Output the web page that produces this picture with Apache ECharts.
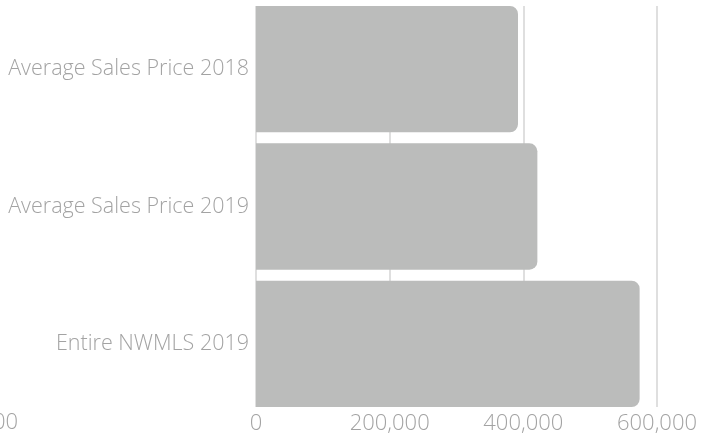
<!DOCTYPE html>
<html><head><meta charset="utf-8">
<script src="https://cdn.jsdelivr.net/npm/echarts@6/dist/echarts.min.js"></script>
<style>html,body{margin:0;padding:0;background:#fff}#c{width:706px;height:438px}</style>
</head><body><div id="c"></div>
<script>
const categories = ["Average Sales Price 2018", "Average Sales Price 2019", "Entire NWMLS 2019"];
const values = [392000, 421000, 574000];
const xMin = 0, xMax = 600000, xStep = 200000;
const strayLabel = "00";

const font = "Open Sans";
const txt = "#a3a3a3";
const chart = echarts.init(document.getElementById('c'), null, {renderer: 'canvas'});
chart.setOption({
  animation: false,
  grid: [
    {left: 256, right: 49, top: 0.5, bottom: 25.5},
    {left: 256, right: 49, top: 6, bottom: 31}
  ],
  xAxis: [
    {gridIndex: 0, type: 'value', min: xMin, max: xMax, interval: xStep, show: false, splitLine: {show: false}},
    {gridIndex: 1, type: 'value', min: xMin, max: xMax, interval: xStep,
     axisLine: {show: false}, axisTick: {show: false},
     splitLine: {show: true, lineStyle: {color: '#d4d4d4', width: 1.5}},
     axisLabel: {color: txt, fontFamily: font, fontWeight: 300, fontSize: 22, margin: 6}}
  ],
  yAxis: [
    {gridIndex: 0, type: 'category', data: categories, inverse: true,
     axisLine: {show: false}, axisTick: {show: false}, splitLine: {show: false},
     axisLabel: {color: txt, fontFamily: font, fontWeight: 300, fontSize: 21.5, margin: 7,
                 padding: [11, 0, 0, 0]}},
    {gridIndex: 1, type: 'category', data: categories, show: false}
  ],
  series: [{
    type: 'bar', xAxisIndex: 0, yAxisIndex: 0, data: values,
    barCategoryGap: '8%',
    itemStyle: {color: '#bbbcbb', borderRadius: [0, 8, 8, 0]},
    z: 3
  }],
  graphic: [{
    type: 'text', x: -7, y: 412,
    style: {text: strayLabel, fill: txt, font: '300 22px "Open Sans"'}
  }]
});
</script></body></html>
